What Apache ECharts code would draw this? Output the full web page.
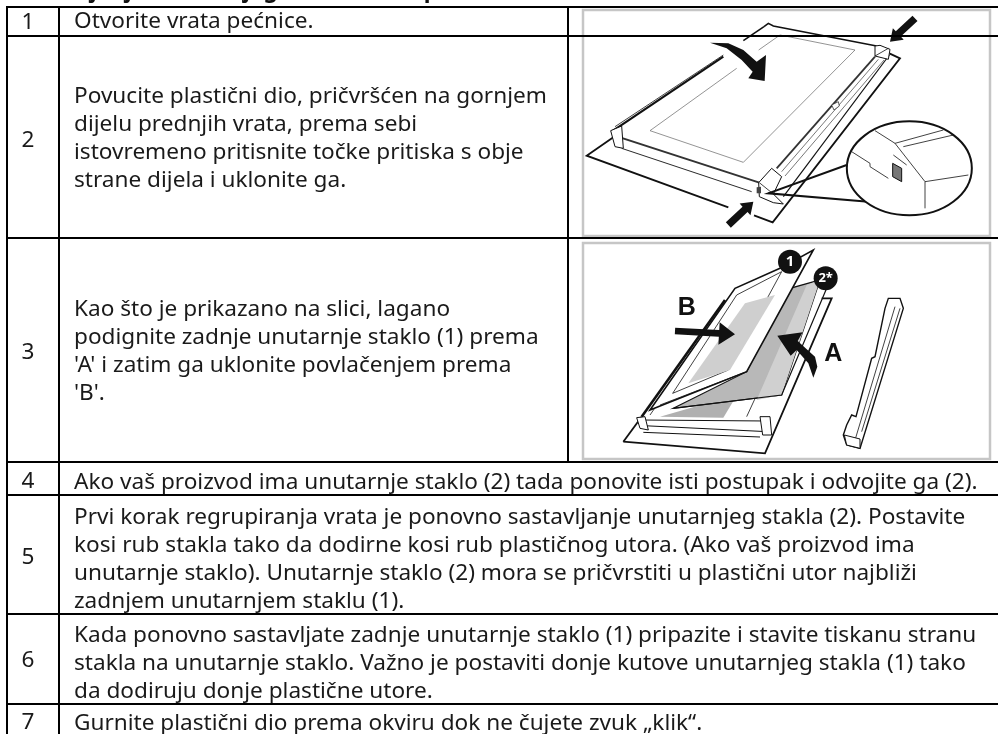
<!DOCTYPE html>
<html>
<head>
<meta charset="utf-8">
<style>html,body{margin:0;padding:0;background:#fff}#chart{width:998px;height:734px}</style>
<script src="https://cdn.jsdelivr.net/npm/echarts@6/dist/echarts.min.js"></script>
</head>
<body>
<div id="chart"></div>
<script>
// table content
const title = "Uklanjanje unutarnjeg stakla vrata pećnice";
const stepNumbers = ["1", "2", "3", "4", "5", "6", "7"];
const stepLines = [
  ["Otvorite vrata pećnice."],
  ["Povucite plastični dio, pričvršćen na gornjem", "dijelu prednjih vrata, prema sebi", "istovremeno pritisnite točke pritiska s obje", "strane dijela i uklonite ga."],
  ["Kao što je prikazano na slici, lagano", "podignite zadnje unutarnje staklo (1) prema", "'A' i zatim ga uklonite povlačenjem prema", "'B'."],
  ["Ako vaš proizvod ima unutarnje staklo (2) tada ponovite isti postupak i odvojite ga (2)."],
  ["Prvi korak regrupiranja vrata je ponovno sastavljanje unutarnjeg stakla (2). Postavite", "kosi rub stakla tako da dodirne kosi rub plastičnog utora. (Ako vaš proizvod ima", "unutarnje staklo). Unutarnje staklo (2) mora se pričvrstiti u plastični utor najbliži", "zadnjem unutarnjem staklu (1)."],
  ["Kada ponovno sastavljate zadnje unutarnje staklo (1) pripazite i stavite tiskanu stranu", "stakla na unutarnje staklo. Važno je postaviti donje kutove unutarnjeg stakla (1) tako", "da dodiruju donje plastične utore."],
  ["Gurnite plastični dio prema okviru dok ne čujete zvuk „klik“."]
];
// row layout
const rowBottoms = [36, 238, 462, 495, 614, 704, 734];
const numberCentres = [23, 141, 353, 482, 558, 661, 723];
const firstLineCentres = [22, 97, 310, 483, 518, 636, 724];

const INK = "#1a1a1a";
const FONT = '"Noto Sans", sans-serif';
const TEXT_SIZE = "22.6px ";

function renderRow(params, api) {
  const i = api.value(0);
  const children = [];
  const bottom = api.coord([0, rowBottoms[i]])[1];
  if (i < 6) {
    children.push({ type: "line", shape: { x1: 6, y1: bottom, x2: 998, y2: bottom }, style: { stroke: "#000", lineWidth: 2 } });
  }
  children.push({
    type: "text",
    style: { x: api.coord([28, 0])[0], y: api.coord([0, numberCentres[i]])[1], text: stepNumbers[i], font: TEXT_SIZE + FONT, fill: INK, align: "center", verticalAlign: "middle" }
  });
  stepLines[i].forEach(function (line, k) {
    children.push({
      type: "text",
      style: { x: api.coord([74, 0])[0], y: api.coord([0, firstLineCentres[i] + k * 28])[1], text: line, font: TEXT_SIZE + FONT, fill: INK, align: "left", verticalAlign: "middle" }
    });
  });
  return { type: "group", children: children };
}

// illustration helpers, crop coordinates -> page
function p1(pts) { return pts.map(function (q) { return [560 + q[0] / 3, q[1] / 3]; }); }
function p2(pts) { return pts.map(function (q) { return [560 + q[0] / 3, 235 + q[1] / 3]; }); }
function poly(pts, fill, stroke, w) {
  return { type: "polygon", shape: { points: pts }, style: { fill: fill || "#fff", stroke: stroke || null, lineWidth: w || 1 } };
}
function wire(pts, w, col) {
  return { type: "polyline", shape: { points: pts }, style: { fill: null, stroke: col || "#111", lineWidth: w || 1 } };
}
function arrow(map, a, b, w, head) {
  const dx = b[0] - a[0], dy = b[1] - a[1], l = Math.sqrt(dx * dx + dy * dy);
  const ux = dx / l, uy = dy / l, nx = -uy, ny = ux;
  const m = [b[0] - ux * head, b[1] - uy * head];
  return poly(map([
    [a[0] + nx * w, a[1] + ny * w], [m[0] + nx * w, m[1] + ny * w], [m[0] + nx * head * 0.7, m[1] + ny * head * 0.7], b,
    [m[0] - nx * head * 0.7, m[1] - ny * head * 0.7], [m[0] - nx * w, m[1] - ny * w], [a[0] - nx * w, a[1] - ny * w]
  ]), "#111");
}

const frameGray = "#c6c6c6";
const panelOne = [
  { type: "rect", shape: { x: 583, y: 10, width: 407, height: 226 }, style: { fill: "#fff", stroke: frameGray, lineWidth: 2.5 } },
  wire(p1([[160, 412], [80, 467], [505, 622]]), 1.8),
  wire(p1([[582, 646], [638, 667], [1020, 175], [988, 160]]), 1.8),
  wire(p1([[165, 380], [490, 165]]), 0.8),
  wire(p1([[155, 395], [490, 170]]), 2.2),
  wire(p1([[550, 122], [612, 80]]), 1.6),
  wire(p1([[612, 80], [625, 70], [640, 78], [950, 138]]), 1.6),
  wire(p1([[155, 395], [180, 412], [598, 548]]), 2, "#333"),
  wire(p1([[185, 445], [575, 575]]), 0.9),
  wire(p1([[596, 150], [660, 105], [885, 150], [550, 487], [270, 392], [530, 205]]), 0.7, "#666"),
  wire(p1([[945, 170], [650, 505]]), 1.8, "#333"),
  wire(p1([[955, 178], [665, 515]]), 0.8, "#555"),
  wire(p1([[972, 180], [675, 528]]), 0.8, "#555"),
  wire(p1([[988, 165], [670, 590]]), 1.2),
  poly(p1([[815, 315], [835, 305], [838, 318], [822, 330]]), "#fff", "#333", 0.8),
  poly(p1([[596, 548], [635, 505], [665, 530], [640, 582], [670, 612], [640, 608], [598, 590]]), "#fff", "#111", 1),
  wire(p1([[640, 582], [598, 548]]), 0.8),
  poly(p1([[590, 562], [603, 560], [603, 580], [590, 580]]), "#444"),
  poly(p1([[945, 138], [960, 136], [990, 148], [985, 178], [945, 168]]), "#fff", "#111", 1),
  wire(p1([[945, 168], [985, 145]]), 0.8),
  poly(p1([[152, 392], [185, 378], [190, 445], [165, 440]]), "#fff", "#111", 1),
  poly(p1([[450, 128], [505, 130], [550, 150], [590, 185], [618, 165], [614, 243], [565, 235], [578, 215], [545, 180], [500, 145]]), "#111"),
  arrow(p1, [1065, 55], [990, 125], 11, 34),
  arrow(p1, [505, 675], [580, 605], 11, 34),
  wire(p1([[860, 495], [625, 580], [925, 605]]), 2),
  { type: "ellipse", shape: { cx: 560 + 1048 / 3, cy: 505 / 3, rx: 62.5, ry: 47 }, style: { fill: "#fff", stroke: "#111", lineWidth: 2 } },
  wire(p1([[875, 455], [930, 490], [930, 500], [985, 535]]), 0.8),
  wire(p1([[945, 392], [1005, 430], [1095, 545], [1095, 625]]), 0.8),
  wire(p1([[1005, 430], [1150, 390]]), 0.8),
  wire(p1([[1030, 440], [1180, 405]]), 0.8),
  wire(p1([[1095, 545], [1225, 525]]), 0.8),
  wire(p1([[1000, 465], [1040, 495]]), 0.8),
  poly(p1([[998, 490], [1025, 505], [1025, 545], [998, 530]]), "#777", "#111", 1)
];

const panelTwo = [
  { type: "rect", shape: { x: 583, y: 243, width: 407, height: 216 }, style: { fill: "#fff", stroke: frameGray, lineWidth: 2.5 } },
  wire(p2([[190, 620], [245, 545]]), 1.8),
  wire(p2([[190, 620], [615, 655], [815, 190], [785, 190]]), 1.8),
  wire(p2([[245, 545], [495, 195]]), 2.6),
  wire(p2([[270, 540], [495, 215]]), 0.8),
  poly(p2([[300, 545], [490, 548], [590, 480], [560, 470]]), "#b0b0b0"),
  poly(p2([[490, 548], [555, 548], [590, 480], [525, 490]]), "#fff"),
  poly(p2([[245, 555], [620, 558], [622, 590], [250, 572]]), "#fff", "#111", 1),
  wire(p2([[250, 592], [600, 606]]), 1),
  poly(p2([[600, 545], [630, 545], [635, 600], [608, 600]]), "#fff", "#111", 1),
  poly(p2([[230, 548], [255, 545], [265, 585], [240, 580]]), "#fff", "#111", 1),
  wire(p2([[560, 545], [590, 480]]), 0.8),
  poly(p2([[340, 520], [560, 410], [690, 160], [780, 135], [665, 480]]), "#b8b8b8", "#111", 1.2),
  poly(p2([[590, 495], [665, 480], [780, 135], [740, 150]]), "#d0d0d0"),
  wire(p2([[340, 520], [665, 480], [800, 160]]), 1.2),
  poly(p2([[270, 525], [525, 160], [660, 100], [760, 45], [560, 410]]), "#fff", "#111", 1.6),
  wire(p2([[300, 510], [560, 410]]), 0.8),
  poly(p2([[338, 475], [530, 180], [665, 110], [505, 405]]), "#fff", "#111", 0.8),
  poly(p2([[385, 445], [555, 205], [645, 180], [510, 405]]), "#cfcfcf"),
  poly(p2([[850, 600], [860, 570], [875, 540], [888, 545], [935, 370], [945, 365], [975, 220], [985, 190], [1020, 190], [1030, 220], [900, 640], [860, 630]]), "#fff", "#111", 1.4),
  wire(p2([[880, 632], [1005, 215]]), 0.8),
  wire(p2([[905, 590], [1020, 220]]), 0.8),
  poly(p2([[853, 600], [900, 612], [900, 640], [860, 630]]), "#fff", "#111", 1),
  { type: "circle", shape: { cx: 560 + 690 / 3, cy: 235 + 80 / 3, r: 12 }, style: { fill: "#111" } },
  { type: "circle", shape: { cx: 560 + 797 / 3, cy: 235 + 130 / 3, r: 12 }, style: { fill: "#111" } },
  { type: "text", style: { x: 560 + 690 / 3, y: 235 + 80 / 3, text: "1", font: "bold 15px " + FONT, fill: "#fff", align: "center", verticalAlign: "middle" } },
  { type: "text", style: { x: 560 + 797 / 3, y: 235 + 130 / 3, text: "2*", font: "bold 13px " + FONT, fill: "#fff", align: "center", verticalAlign: "middle" } },
  { type: "text", style: { x: 560 + 380 / 3, y: 235 + 218 / 3, text: "B", font: 'bold 25px "Liberation Sans", sans-serif', fill: "#111", align: "center", verticalAlign: "middle" } },
  { type: "text", style: { x: 560 + 820 / 3, y: 235 + 358 / 3, text: "A", font: 'bold 25px "Liberation Sans", sans-serif', fill: "#111", align: "center", verticalAlign: "middle" } },
  arrow(p2, [345, 288], [525, 298], 10, 48),
  poly(p2([[652, 302], [728, 292], [713, 318], [765, 365], [772, 395], [760, 428], [745, 385], [710, 345], [692, 362]]), "#111")
];

const myChart = echarts.init(document.getElementById("chart"), null, { renderer: "canvas" });

myChart.setOption({
  animation: false,
  backgroundColor: "#fff",
  grid: { left: 0, right: 0, top: 0, bottom: 0 },
  xAxis: { type: "value", min: 0, max: 998, show: false },
  yAxis: { type: "value", min: 0, max: 734, inverse: true, show: false },
  graphic: [
    { type: "group", silent: true, children: panelOne },
    { type: "group", silent: true, children: panelTwo },
    { type: "text", style: { x: 24, y: 2, text: title, font: "bold 22.6px " + FONT, fill: "#111", align: "left", verticalAlign: "bottom" } },
    { type: "line", shape: { x1: 6, y1: 7, x2: 998, y2: 7 }, style: { stroke: "#000", lineWidth: 2 } },
    { type: "line", shape: { x1: 7, y1: 6, x2: 7, y2: 734 }, style: { stroke: "#000", lineWidth: 2 } },
    { type: "line", shape: { x1: 59, y1: 6, x2: 59, y2: 734 }, style: { stroke: "#000", lineWidth: 2 } },
    { type: "line", shape: { x1: 568, y1: 6, x2: 568, y2: 462 }, style: { stroke: "#000", lineWidth: 2 } }
  ],
  series: [
    {
      type: "custom",
      coordinateSystem: "cartesian2d",
      renderItem: renderRow,
      data: stepNumbers.map(function (n, i) { return [i]; }),
      encode: { x: 0 },
      silent: true
    }
  ]
});
</script>
</body>
</html>
